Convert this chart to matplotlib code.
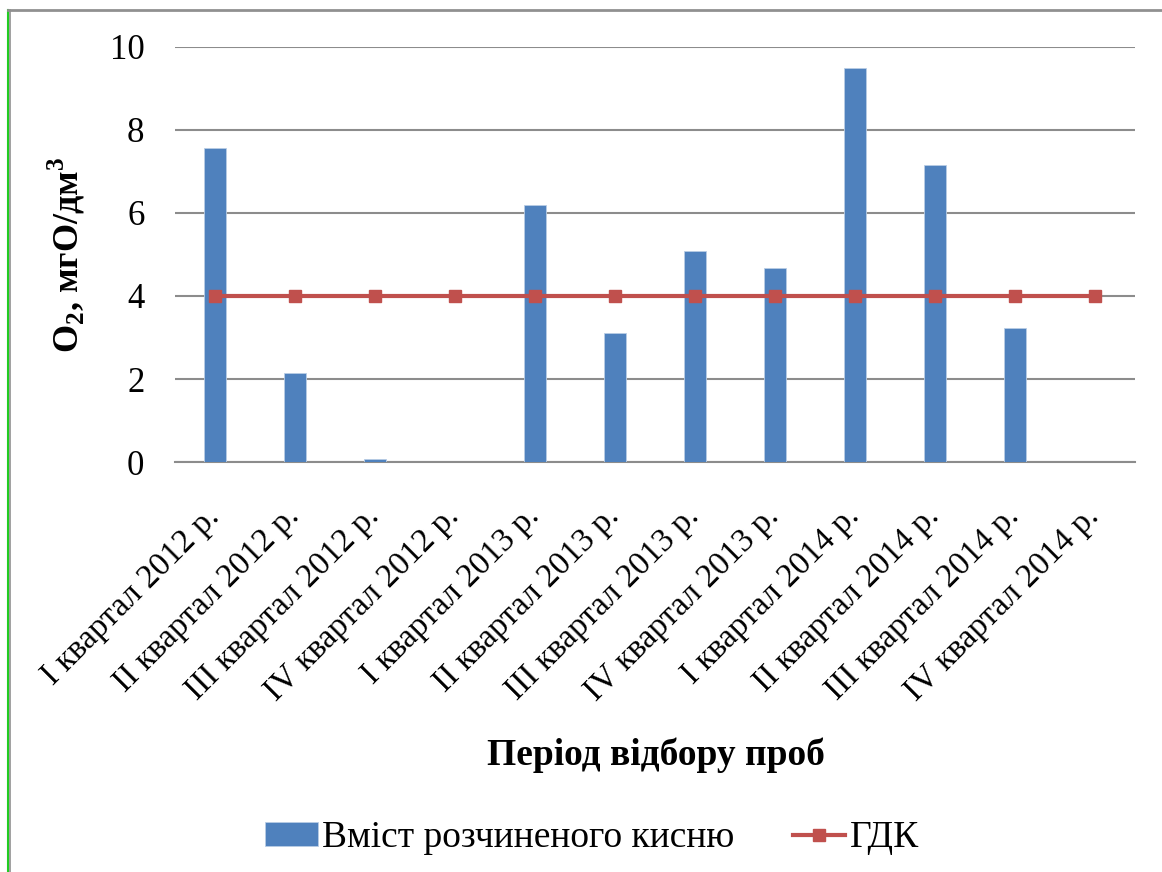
import matplotlib
matplotlib.use("Agg")
import matplotlib.pyplot as plt
from matplotlib.lines import Line2D
import numpy as np

# Data
categories = [
    "I квартал 2012 р.", "II квартал 2012 р.", "III квартал 2012 р.", "IV квартал 2012 р.",
    "I квартал 2013 р.", "II квартал 2013 р.", "III квартал 2013 р.", "IV квартал 2013 р.",
    "I квартал 2014 р.", "II квартал 2014 р.", "III квартал 2014 р.", "IV квартал 2014 р.",
]
oxygen = [7.56, 2.14, 0.08, 0.0, 6.19, 3.11, 5.08, 4.67, 9.49, 7.16, 3.23, 0.0]
gdk = [4, 4, 4, 4, 4, 4, 4, 4, 4, 4, 4, 4]
yticks = [0, 2, 4, 6, 8, 10]

plt.rcParams["font.family"] = ["Liberation Serif", "DejaVu Serif"]
plt.rcParams["mathtext.fontset"] = "custom"
plt.rcParams["mathtext.rm"] = "Liberation Serif"
plt.rcParams["mathtext.bf"] = "Liberation Serif:bold"

W, H = 1162, 872
fig = plt.figure(figsize=(W / 100, H / 100), dpi=100)
ax = fig.add_axes([175 / W, 1 - 462 / H, (1135 - 175) / W, (462 - 47) / H])

x = np.arange(len(categories))
bars = ax.bar(x, oxygen, width=0.27, color="#4F81BD", edgecolor="#B9CDE5", linewidth=0.6,
              zorder=3, label="Вміст розчиненого кисню")
line, = ax.plot(x, gdk, color="#C0504D", lw=3, marker="s", markersize=9,
                markerfacecolor="#C0504D", markeredgecolor="#C0504D", zorder=4, label="ГДК")

ax.set_xlim(-0.5, len(categories) - 0.5)
ax.set_ylim(0, 10)
ax.set_yticks(yticks)
ax.set_yticklabels([str(v) for v in yticks], fontsize=25)
ax.yaxis.grid(True, color="#8C8C8C", lw=1.5, zorder=0)
ax.set_axisbelow(True)
for side in ["top", "right", "left"]:
    ax.spines[side].set_visible(False)
ax.spines["bottom"].set_color("#8C8C8C")
ax.spines["bottom"].set_linewidth(1.5)
ax.tick_params(axis="both", length=0)
ax.tick_params(axis="y", pad=22)

ax.set_xticks(x)
ax.set_xticklabels(categories, rotation=45, ha="right", va="center",
                   rotation_mode="anchor", fontsize=24)
ax.tick_params(axis="x", pad=36)

ax.set_ylabel(r"O$_\mathbf{2}$, мгO/дм$^\mathbf{3}$", fontsize=26, fontweight="bold", labelpad=16)
fig.text(656 / W, 1 - 755 / H, "Період відбору проб", fontsize=27, fontweight="bold",
         ha="center", va="center")

fig.legend(handles=[bars, line], loc="center", bbox_to_anchor=(592 / W, 1 - 838 / H),
           ncol=2, frameon=False, fontsize=27, handlelength=1.4, handleheight=0.6,
           handletextpad=0.12, columnspacing=1.55)

# Page frame
fig.add_artist(Line2D([8 / W, 8 / W], [0, 1 - 10 / H], color="#22CC22", lw=1.5,
                      transform=fig.transFigure))
fig.add_artist(Line2D([9.5 / W, 9.5 / W], [0, 1 - 10 / H], color="#909090", lw=1.2,
                      transform=fig.transFigure))
fig.add_artist(Line2D([8 / W, 1], [1 - 10.5 / H, 1 - 10.5 / H], color="#909090", lw=2,
                      transform=fig.transFigure))

fig.savefig("out.png", dpi=100)
